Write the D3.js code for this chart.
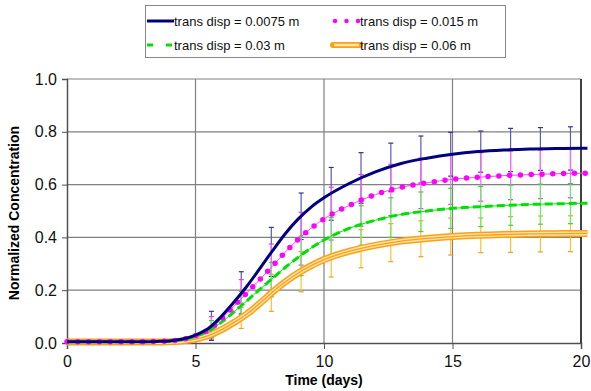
<!DOCTYPE html>
<html>
<head>
<meta charset="utf-8">
<script src="https://cdn.jsdelivr.net/npm/d3@7"></script>
<style>
  body { margin: 0; background: #fff; }
  svg { display: block; font-family: "Liberation Sans", Arial, sans-serif; }
</style>
</head>
<body>
<svg id="chart" width="591" height="391"></svg>
<script>
// Curve sample times (days) and model curves
const curveTimes = [0, 1, 2, 3, 3.5, 4, 4.5, 5, 5.5, 6, 6.5, 7, 7.5, 8, 8.5, 9, 9.5, 10, 11, 12, 13, 14, 15, 16, 17, 18, 19, 20, 20.25];
const blueCurve = [0.005, 0.005, 0.005, 0.005, 0.006, 0.008, 0.015, 0.03, 0.055, 0.1, 0.155, 0.215, 0.282, 0.35, 0.415, 0.47, 0.515, 0.55, 0.605, 0.648, 0.68, 0.7, 0.715, 0.725, 0.731, 0.735, 0.737, 0.738, 0.738];
const magentaCurve = [0.005, 0.005, 0.005, 0.005, 0.006, 0.008, 0.014, 0.028, 0.05, 0.09, 0.14, 0.19, 0.24, 0.292, 0.345, 0.393, 0.435, 0.47, 0.522, 0.562, 0.59, 0.607, 0.62, 0.628, 0.634, 0.638, 0.641, 0.643, 0.643];
const greenCurve = [0.005, 0.005, 0.005, 0.005, 0.006, 0.008, 0.013, 0.025, 0.045, 0.078, 0.118, 0.16, 0.203, 0.245, 0.287, 0.325, 0.36, 0.39, 0.435, 0.465, 0.487, 0.5, 0.51, 0.516, 0.521, 0.525, 0.527, 0.529, 0.529];
const orangeCurve = [0.004, 0.004, 0.004, 0.004, 0.004, 0.005, 0.008, 0.015, 0.028, 0.05, 0.078, 0.11, 0.15, 0.193, 0.232, 0.265, 0.293, 0.316, 0.348, 0.37, 0.386, 0.396, 0.403, 0.408, 0.411, 0.413, 0.414, 0.415, 0.415];

// Error bar sample times, means and half-widths
const barTimes = [5.62, 6.78, 7.95, 9.11, 10.28, 11.44, 12.6, 13.77, 14.93, 16.1, 17.26, 18.42, 19.59];
const blueMean = [0.065, 0.19, 0.345, 0.48, 0.565, 0.625, 0.665, 0.695, 0.715, 0.725, 0.731, 0.735, 0.737];
const blueErr = [0.055, 0.08, 0.093, 0.088, 0.1, 0.096, 0.092, 0.089, 0.083, 0.078, 0.082, 0.081, 0.082];
const magentaMean = [0.06, 0.17, 0.285, 0.395, 0.49, 0.54, 0.58, 0.605, 0.62, 0.629, 0.635, 0.639, 0.642];
const magentaErr = [0.04, 0.07, 0.09, 0.1, 0.1, 0.098, 0.097, 0.096, 0.095, 0.092, 0.092, 0.092, 0.092];
const greenMean = [0.055, 0.145, 0.24, 0.33, 0.4, 0.445, 0.475, 0.497, 0.51, 0.517, 0.522, 0.526, 0.528];
const greenErr = [0.03, 0.05, 0.065, 0.075, 0.075, 0.075, 0.075, 0.075, 0.076, 0.076, 0.076, 0.076, 0.076];
const orangeMean = [0.03, 0.095, 0.19, 0.27, 0.325, 0.357, 0.38, 0.395, 0.403, 0.408, 0.411, 0.413, 0.414];
const orangeErr = [0.015, 0.04, 0.07, 0.076, 0.075, 0.072, 0.072, 0.068, 0.07, 0.066, 0.068, 0.068, 0.068];

const seriesNames = ["trans disp = 0.0075 m", "trans disp = 0.015 m", "trans disp = 0.03 m", "trans disp = 0.06 m"];
const xTicks = [0, 5, 10, 15, 20];
const yTicks = [0, 0.2, 0.4, 0.6, 0.8, 1.0];

const svg = d3.select("#chart");
const plot = { left: 67, right: 581, top: 79, bottom: 343 };

const x = d3.scaleLinear().domain([0, 20]).range([plot.left, plot.right]);
const y = d3.scaleLinear().domain([0, 1]).range([plot.bottom, plot.top]);

// Gridlines
svg.append("g")
  .selectAll("line.h")
  .data(yTicks.slice(1))
  .join("line")
  .attr("x1", plot.left).attr("x2", plot.right)
  .attr("y1", (d) => y(d)).attr("y2", (d) => y(d))
  .attr("stroke", "#808080").attr("stroke-width", 1.2);

svg.append("g")
  .selectAll("line.v")
  .data(xTicks.slice(1))
  .join("line")
  .attr("x1", (d) => x(d)).attr("x2", (d) => x(d))
  .attr("y1", plot.top).attr("y2", plot.bottom)
  .attr("stroke", (d) => (d === 20 ? "#404040" : "#808080"))
  .attr("stroke-width", (d) => (d === 20 ? 2 : 1.2));

// Axes
const xAxis = d3.axisBottom(x).tickValues(xTicks).tickSize(6).tickPadding(4).tickFormat(d3.format("d"));
const gx = svg.append("g").attr("transform", `translate(0,${plot.bottom})`).call(xAxis);
gx.select(".domain").attr("stroke", "#505050").attr("stroke-width", 1.5);
gx.selectAll(".tick line").attr("stroke", "#505050");
gx.selectAll("text").style("font-size", "16px").attr("fill", "#111").attr("dy", "0.9em");

const yAxis = d3.axisLeft(y).tickValues(yTicks).tickSize(5).tickPadding(5).tickFormat(d3.format(".1f"));
const gy = svg.append("g").attr("transform", `translate(${plot.left},0)`).call(yAxis);
gy.select(".domain").attr("stroke", "#505050").attr("stroke-width", 1.5);
gy.selectAll(".tick line").attr("stroke", "#505050");
gy.selectAll("text").style("font-size", "16px").attr("fill", "#111");

svg.append("text")
  .attr("x", (plot.left + plot.right) / 2).attr("y", 385)
  .attr("text-anchor", "middle")
  .style("font-size", "14px").style("font-weight", "bold")
  .text("Time (days)");

svg.append("text")
  .attr("transform", `translate(19,${(plot.top + plot.bottom) / 2 + 2}) rotate(-90)`)
  .attr("text-anchor", "middle")
  .style("font-size", "14px").style("font-weight", "bold")
  .text("Normalized Concentration");

// Error bars
const barSets = [
  { mean: orangeMean, err: orangeErr, color: "#ffbf33", cap: "#f0a020" },
  { mean: blueMean, err: blueErr, color: "#5a5ab4", cap: "#30309a" },
  { mean: magentaMean, err: magentaErr, color: "#ff66ff", cap: "#e040e0" },
  { mean: greenMean, err: greenErr, color: "#66ee66", cap: "#44cc44" },
];
const gBars = svg.append("g");
barSets.forEach((s) => {
  const rows = barTimes.map((t, i) => ({ t, lo: s.mean[i] - s.err[i], hi: s.mean[i] + s.err[i] }));
  const g = gBars.append("g");
  g.selectAll("line.bar").data(rows).join("line")
    .attr("x1", (d) => x(d.t)).attr("x2", (d) => x(d.t))
    .attr("y1", (d) => y(d.lo)).attr("y2", (d) => y(d.hi))
    .attr("stroke", s.color).attr("stroke-width", 1.2);
  ["lo", "hi"].forEach((k) => {
    g.selectAll(`line.cap-${k}`).data(rows).join("line")
      .attr("x1", (d) => x(d.t) - 2.5).attr("x2", (d) => x(d.t) + 2.5)
      .attr("y1", (d) => y(d[k])).attr("y2", (d) => y(d[k]))
      .attr("stroke", s.cap).attr("stroke-width", 1.2);
  });
});

// Curves
const line = d3.line().x((d) => x(d[0])).y((d) => y(d[1])).curve(d3.curveMonotoneX);
const pts = (vals) => curveTimes.map((t, i) => [t, vals[i]]);
const gCurves = svg.append("g").attr("fill", "none");

// orange triple line
gCurves.append("path").attr("d", line(pts(orangeCurve))).attr("stroke", "#ffa010").attr("stroke-width", 7);
gCurves.append("path").attr("d", line(pts(orangeCurve))).attr("stroke", "#ffe3b0").attr("stroke-width", 4);
gCurves.append("path").attr("d", line(pts(orangeCurve))).attr("stroke", "#ffa010").attr("stroke-width", 1.3);

// green dashed
gCurves.append("path").attr("d", line(pts(greenCurve))).attr("stroke", "#00ee00").attr("stroke-width", 1);
gCurves.append("path").attr("d", line(pts(greenCurve)))
  .attr("stroke", "#00e000").attr("stroke-width", 3).attr("stroke-dasharray", "8,4");

// magenta dotted
gCurves.append("path").attr("d", line(pts(magentaCurve))).attr("stroke", "#ff44ff").attr("stroke-width", 1);
gCurves.append("path").attr("d", line(pts(magentaCurve)))
  .attr("stroke", "#ff00ff").attr("stroke-width", 5.5)
  .attr("stroke-linecap", "round").attr("stroke-dasharray", "0,10.8");

// blue solid
gCurves.append("path").attr("d", line(pts(blueCurve))).attr("stroke", "#000080").attr("stroke-width", 3);

// Legend
const legend = svg.append("g");
legend.append("rect")
  .attr("x", 145.5).attr("y", 5.5).attr("width", 360).attr("height", 52)
  .attr("fill", "#fff").attr("stroke", "#888").attr("stroke-width", 1);

const legendPos = [
  { x: 147, y: 21 },
  { x: 333, y: 21 },
  { x: 147, y: 45 },
  { x: 333, y: 45 },
];
seriesNames.forEach((name, i) => {
  const p = legendPos[i];
  const x1 = p.x, x2 = p.x + 27;
  if (i === 0) {
    legend.append("line").attr("x1", x1).attr("x2", x2).attr("y1", p.y).attr("y2", p.y)
      .attr("stroke", "#000080").attr("stroke-width", 3);
  } else if (i === 1) {
    legend.append("line").attr("x1", x1 + 2).attr("x2", x2).attr("y1", p.y).attr("y2", p.y)
      .attr("stroke", "#ff00ff").attr("stroke-width", 4.5).attr("stroke-linecap", "round")
      .attr("stroke-dasharray", "0,11.5");
  } else if (i === 2) {
    legend.append("line").attr("x1", x1).attr("x2", x2).attr("y1", p.y).attr("y2", p.y)
      .attr("stroke", "#00e000").attr("stroke-width", 3).attr("stroke-dasharray", "6,13");
  } else {
    legend.append("line").attr("x1", x1).attr("x2", x2).attr("y1", p.y).attr("y2", p.y)
      .attr("stroke", "#ffa010").attr("stroke-width", 6).attr("stroke-linecap", "round");
    legend.append("line").attr("x1", x1 + 1).attr("x2", x2 - 1).attr("y1", p.y).attr("y2", p.y)
      .attr("stroke", "#ffe3b0").attr("stroke-width", 2.5);
  }
  legend.append("text")
    .attr("x", x2).attr("y", p.y).attr("dy", "0.36em")
    .style("font-size", "13px").attr("fill", "#111")
    .text(name);
});
</script>
</body>
</html>
